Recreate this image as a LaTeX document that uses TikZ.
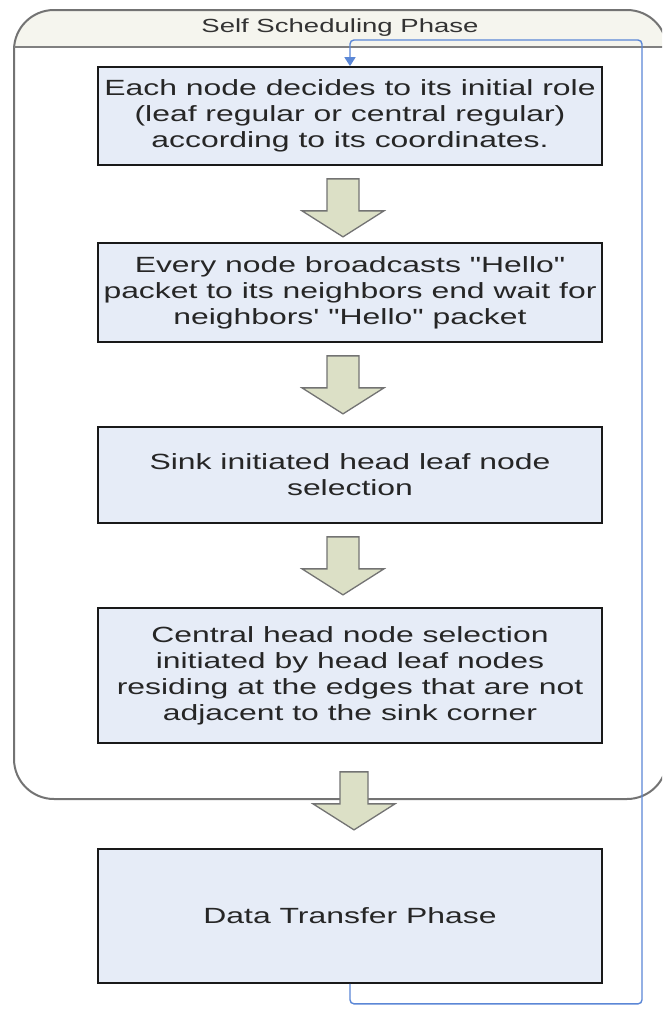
\documentclass[tikz,border=0pt]{standalone}
\usepackage{fontspec}
\setmainfont{Liberation Sans}[FakeStretch=1.45, Ligatures=TeXOff]
\usepackage{tikz}
\usetikzlibrary{calc,arrows.meta}
\definecolor{boxfill}{HTML}{E6ECF7}
\definecolor{arrowfill}{HTML}{DCE0C6}
\definecolor{headfill}{HTML}{F5F5EE}
\definecolor{loopblue}{HTML}{5B87D6}
\tikzset{
  stepbox/.style={draw=black!90, line width=1.7pt, fill=boxfill,
    minimum width=504pt, inner sep=0pt, align=center, text=black!85,
    font=\fontsize{22}{26}\selectfont},
  blockarrow/.style={draw=black!55, line width=1.3pt, fill=arrowfill, line join=miter},
  loopline/.style={draw=loopblue, line width=1.4pt, rounded corners=4pt,
    -{Triangle[width=11pt,length=9pt]}}
}
\newcommand{\phaseArrow}[2]{%
  \draw[blockarrow] ($(#1)+(-#2,0)$) -- ++(2*#2,0) -- ++(0,32) -- ++(41-#2,0)
    -- ++(-41,26) -- ++(-41,-26) -- ++(41-#2,0) -- cycle;}

\begin{document}
\begin{tikzpicture}[x=1pt,y=-1pt]
      \useasboundingbox (0,0) rectangle (662,1010);
      \clip (0,0) rectangle (662,1010);
      \fill[white] (0,0) rectangle (662,1010);
      \begin{scope}
        \clip[rounded corners=40pt] (14,10) rectangle (667,799);
        \fill[headfill] (14,10) rectangle (667,47);
      \end{scope}
      \draw[black!55, line width=2pt, rounded corners=40pt] (14,10) rectangle (667,799);
      \draw[black!50, line width=2pt] (14,47) -- (667,47);
      \node[text=black!80] (title) at (340,28) {\fontsize{19}{22}\selectfont Self Scheduling Phase};
      \node[stepbox, minimum height=98pt] (b1) at (350,116)
        {Each node decides to its initial role\\(leaf regular or central regular)\\according to its coordinates.};
      \node[stepbox, minimum height=99pt] (b2) at (350,292.5)
        {Every node broadcasts "Hello"\\packet to its neighbors end wait for\\neighbors' "Hello" packet};
      \node[stepbox, minimum height=96pt] (b3) at (350,475)
        {Sink initiated head leaf node\\selection};
      \node[stepbox, minimum height=135pt] (b4) at (350,675.5)
        {Central head node selection\\initiated by head leaf nodes\\residing at the edges that are not\\adjacent to the sink corner};
      \node[stepbox, minimum height=134pt] (b5) at (350,916)
        {Data Transfer Phase};
      \phaseArrow{$(b1.south)+(-7,13)$}{16}
      \phaseArrow{$(b2.south)+(-7,13)$}{16}
      \phaseArrow{$(b3.south)+(-7,13)$}{16}
      \phaseArrow{$(b4.south)+(4,28)$}{14}
      \coordinate (loopcorner) at (642,40);
      \draw[loopline] (b5.south) -- ++(0,20) -| (loopcorner) -| (b1.north);
    \end{tikzpicture}
\end{document}
